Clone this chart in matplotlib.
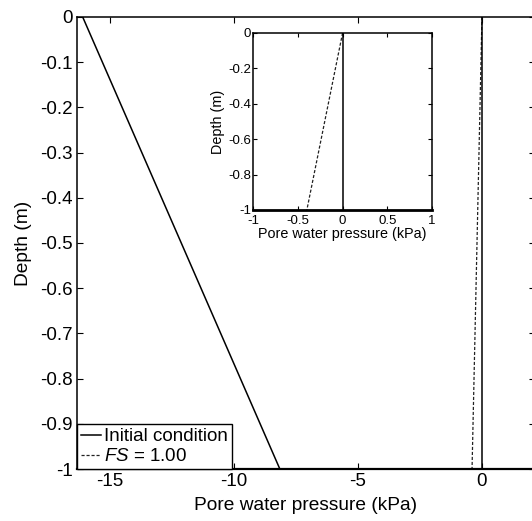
import matplotlib
matplotlib.use('Agg')
import matplotlib.pyplot as plt

# data (depth in m, pore water pressure in kPa)
depth_init = [0.0, -1.0]
pwp_init = [-16.1, -8.15]
depth_fs = [0.0, -0.2, -0.4, -0.6, -0.8, -1.0]
pwp_fs = [0.0, -0.08, -0.16, -0.24, -0.32, -0.40]
depth_zero = [0.0, -1.0]
pwp_zero = [0.0, 0.0]

main_yticks = [0, -0.1, -0.2, -0.3, -0.4, -0.5, -0.6, -0.7, -0.8, -0.9, -1]
main_yticklabels = ['0', '-0.1', '-0.2', '-0.3', '-0.4', '-0.5', '-0.6', '-0.7', '-0.8', '-0.9', '-1']
main_xticks = [-15, -10, -5, 0]
main_xticklabels = ['-15', '-10', '-5', '0']
ins_yticks = [0, -0.2, -0.4, -0.6, -0.8, -1]
ins_yticklabels = ['0', '-0.2', '-0.4', '-0.6', '-0.8', '-1']
ins_xticks = [-1, -0.5, 0, 0.5, 1]
ins_xticklabels = ['-1', '-0.5', '0', '0.5', '1']

plt.rcParams['font.family'] = ['Liberation Sans', 'DejaVu Sans']
plt.rcParams['mathtext.fontset'] = 'custom'
plt.rcParams['mathtext.it'] = 'Liberation Sans:italic'
plt.rcParams['mathtext.rm'] = 'Liberation Sans'
plt.rcParams['axes.unicode_minus'] = False

fig = plt.figure(figsize=(5.32, 5.21), dpi=100)
ax = fig.add_axes([0.1447, 0.0998, 0.861, 0.8676])

ax.plot(pwp_init, depth_init, color='black', lw=1.1, label='Initial condition')
ax.plot(pwp_fs, depth_fs, color='#222222', lw=0.9, linestyle=(0, (2.5, 1.5)), label='$FS$ = 1.00')
ax.plot(pwp_zero, depth_zero, color='black', lw=1.1)

ax.set_xlim(-16.33, 2.14)
ax.set_ylim(-1, 0)
ax.set_xticks(main_xticks)
ax.set_xticklabels(main_xticklabels)
ax.set_yticks(main_yticks)
ax.set_yticklabels(main_yticklabels)
ax.tick_params(direction='in', top=True, right=True, length=4, width=0.8, labelsize=13.5, pad=3)
for s in ax.spines.values():
    s.set_linewidth(1.1)
ax.spines['bottom'].set_linewidth(1.6)
ax.set_xlabel('Pore water pressure (kPa)', fontsize=13.8, labelpad=5)
ax.set_ylabel('Depth (m)', fontsize=13.8, labelpad=6)

leg = ax.legend(loc='lower left', borderaxespad=0, fontsize=13.5, handlelength=1.1,
                handletextpad=0.15, borderpad=0.2, labelspacing=0.15, fancybox=False,
                framealpha=1, edgecolor='black')
leg.get_frame().set_linewidth(1.0)

# inset
ins = fig.add_axes([0.476, 0.597, 0.336, 0.340])
ins.plot(pwp_fs, depth_fs, color='#222222', lw=0.9, linestyle=(0, (2.5, 1.5)))
ins.plot(pwp_zero, depth_zero, color='black', lw=1.1)
ins.set_xlim(-1, 1)
ins.set_ylim(-1, 0)
ins.set_xticks(ins_xticks)
ins.set_xticklabels(ins_xticklabels)
ins.set_yticks(ins_yticks)
ins.set_yticklabels(ins_yticklabels)
ins.tick_params(direction='in', top=True, right=True, length=3, width=0.8, labelsize=9.5)
ins.tick_params(axis='x', pad=3.5)
ins.tick_params(axis='y', pad=1.5)
for s in ins.spines.values():
    s.set_linewidth(1.1)
ins.spines['bottom'].set_linewidth(2.0)
ins.set_xlabel('Pore water pressure (kPa)', fontsize=10.4, labelpad=0)
ins.set_ylabel('Depth (m)', fontsize=10.4, labelpad=2)

fig.savefig('out.png', dpi=100)
